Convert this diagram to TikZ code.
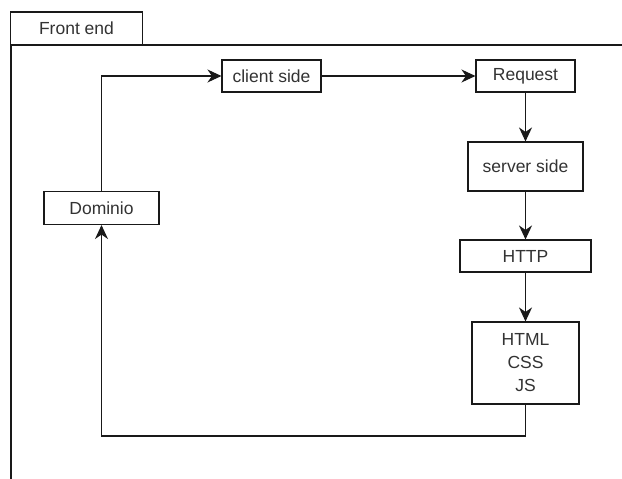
\documentclass[tikz,border=0pt]{standalone}
\usepackage{fontspec}
\setmainfont{Liberation Sans}
\usetikzlibrary{arrows.meta}
\begin{document}
\begin{tikzpicture}[x=1pt,y=-1pt,
  box/.style={draw=black!90,line width=1.1pt,fill=white,inner sep=0pt,align=center,
    font=\fontsize{17.5}{23}\selectfont,text=black!80},
  conn/.style={draw=black!90,line width=1.1pt,-{Stealth[length=14pt,width=13pt,inset=4.5pt]}},
  frame/.style={draw=black!90,line width=1.1pt}]
\useasboundingbox (0,0) rectangle (622,479);
% tab and frame
\node[box,minimum width=132pt,minimum height=33pt] (tab) at (76.5,28.5) {Front end};
\draw[frame] (622,45) -- (11,45) -- (11,479);
% nodes
\node[box,minimum width=99pt,minimum height=32pt] (client) at (271.5,76) {client side};
\node[box,minimum width=99pt,minimum height=32pt] (request) at (525.5,76) {Request};
\node[box,minimum width=115pt,minimum height=49pt] (server) at (525.5,166.5) {server side};
\node[box,minimum width=131pt,minimum height=32pt] (http) at (525.5,256) {HTTP};
\node[box,minimum width=107pt,minimum height=82pt] (html) at (525.5,363) {HTML\\CSS\\JS};
\node[box,minimum width=115pt,minimum height=33pt] (dominio) at (101.5,208) {Dominio};
\coordinate (c1) at (101.5,76);
\coordinate (c2) at (525.5,436);
\coordinate (c3) at (101.5,436);
% connectors
\draw[conn] (dominio.north) -- (c1) -- (client.west);
\draw[conn] (client) -- (request);
\draw[conn] (request) -- (server);
\draw[conn] (server) -- (http);
\draw[conn] (http) -- (html);
\draw[conn] (html.south) -- (c2) -- (c3) -- (dominio.south);
\end{tikzpicture}
\end{document}
